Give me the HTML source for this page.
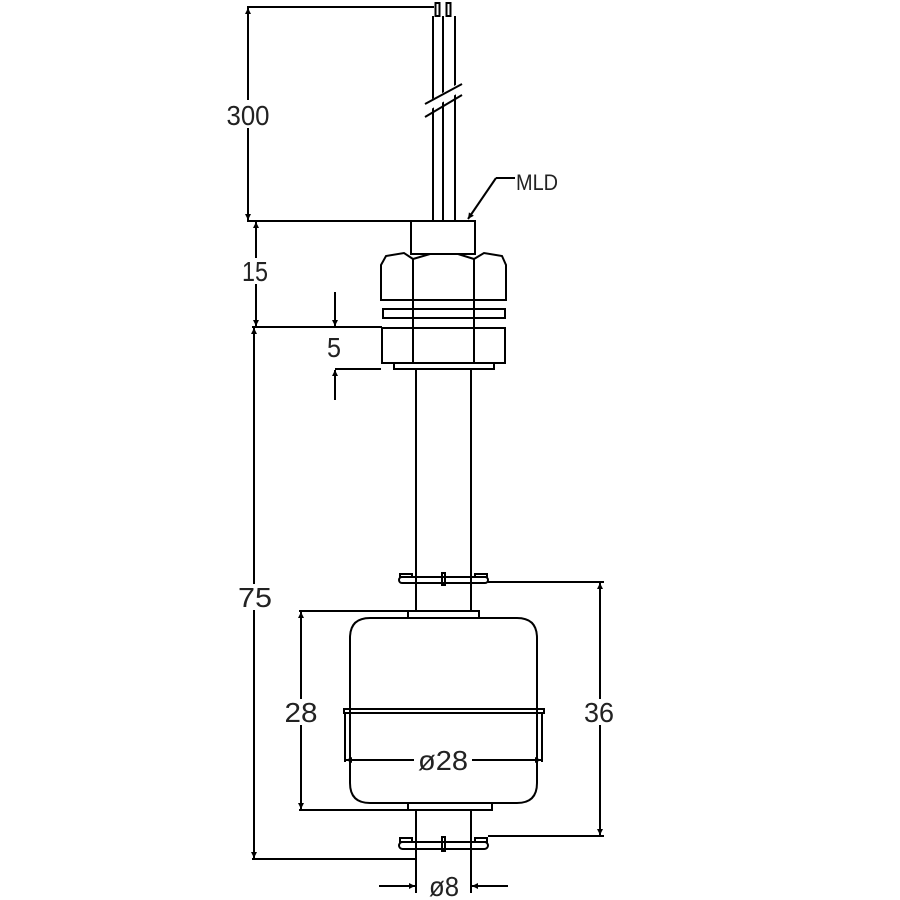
<!DOCTYPE html>
<html><head><style>html,body{margin:0;padding:0;background:#fff}svg{display:block}</style></head><body>
<svg width="900" height="900" viewBox="0 0 900 900" xmlns="http://www.w3.org/2000/svg">
<defs>
<marker id="a" viewBox="0 0 10 10" refX="10" refY="5" markerWidth="10" markerHeight="6" orient="auto-start-reverse" markerUnits="userSpaceOnUse"><path d="M0,0 L10,5 L0,10 z" fill="#000"/></marker>
</defs>
<g stroke="#000" stroke-width="2" fill="none">
<!-- wires -->
<line x1="247" y1="7" x2="434" y2="7"/>
<rect x="435.5" y="3" width="4" height="13"/>
<rect x="446.5" y="3" width="4" height="13"/>
<line x1="433" y1="16" x2="433" y2="221"/>
<line x1="443" y1="16" x2="443" y2="221"/>
<line x1="455" y1="16" x2="455" y2="221"/>
<line x1="425" y1="108" x2="462" y2="86" stroke="#fff" stroke-width="8"/>
<line x1="425" y1="104" x2="462" y2="84"/>
<line x1="425" y1="117" x2="462" y2="95"/>
<!-- 300 dim -->
<line x1="248" y1="8" x2="248" y2="220" marker-start="url(#a)" marker-end="url(#a)"/>
<line x1="247" y1="221" x2="475" y2="221"/>
<!-- MLD leader -->
<line x1="468" y1="219" x2="496" y2="178" marker-start="url(#a)"/>
<line x1="496" y1="178" x2="515" y2="178"/>
<!-- gland -->
<rect x="411" y="221" width="64" height="33"/>
<path d="M381,265 L386,256 L404,253 L413,259 L430,254 L458,254 L474,259 L484,253 L502,256 L506,265 L506,300 L381,300 Z"/>
<line x1="413" y1="259" x2="413" y2="362"/>
<line x1="474" y1="259" x2="474" y2="362"/>
<rect x="383" y="309" width="122" height="9"/>
<rect x="382" y="328" width="123" height="35"/>
<rect x="394" y="363" width="100" height="6"/>
<line x1="416" y1="369" x2="416" y2="611"/>
<line x1="471" y1="369" x2="471" y2="611"/>
<!-- 15 dim -->
<line x1="256" y1="222" x2="256" y2="326" marker-start="url(#a)" marker-end="url(#a)"/>
<line x1="252" y1="327" x2="382" y2="327"/>
<!-- 5 dim -->
<line x1="335" y1="292" x2="335" y2="326" marker-end="url(#a)"/>
<line x1="335" y1="400" x2="335" y2="370" marker-end="url(#a)"/>
<line x1="335" y1="369" x2="381" y2="369"/>
<!-- 75 dim -->
<line x1="254" y1="328" x2="254" y2="858" marker-start="url(#a)" marker-end="url(#a)"/>
<line x1="252" y1="859" x2="416" y2="859"/>
<!-- upper clip -->
<rect x="399" y="577" width="89" height="6" rx="3"/>
<rect x="400" y="574" width="12" height="3"/>
<rect x="475" y="574" width="12" height="3"/>
<rect x="442" y="573" width="3" height="12"/>
<line x1="488" y1="582" x2="604" y2="582"/>
<!-- float -->
<rect x="408" y="611" width="71" height="7"/>
<path d="M370,618 L517,618 Q537,618 537,638 L537,783 Q537,803 517,803 L370,803 Q350,803 350,783 L350,638 Q350,618 370,618 Z"/>
<rect x="344" y="709" width="200" height="4"/>
<line x1="345" y1="713" x2="345" y2="762"/>
<line x1="542" y1="713" x2="542" y2="762"/>
<line x1="346" y1="760" x2="414" y2="760" marker-start="url(#a)"/>
<line x1="472" y1="760" x2="541" y2="760" marker-end="url(#a)"/>
<rect x="408" y="803" width="84" height="7"/>
<line x1="299" y1="611" x2="408" y2="611"/>
<line x1="299" y1="810" x2="408" y2="810"/>
<line x1="301" y1="612" x2="301" y2="809" marker-start="url(#a)" marker-end="url(#a)"/>
<!-- 36 -->
<line x1="600" y1="583" x2="600" y2="835" marker-start="url(#a)" marker-end="url(#a)"/>
<line x1="488" y1="836" x2="604" y2="836"/>
<!-- lower stem + clip -->
<line x1="416" y1="810" x2="416" y2="893"/>
<line x1="471" y1="810" x2="471" y2="893"/>
<rect x="399" y="842" width="89" height="7" rx="3.5"/>
<rect x="400" y="838" width="12" height="4"/>
<rect x="475" y="838" width="12" height="4"/>
<rect x="442" y="837" width="3" height="14"/>
<!-- Ø8 -->
<line x1="379" y1="886" x2="415" y2="886" marker-end="url(#a)"/>
<line x1="508" y1="886" x2="472" y2="886" marker-end="url(#a)"/>
</g>
<g font-family="Liberation Sans, sans-serif" font-size="28" fill="#222" text-anchor="middle">
<rect x="226" y="100" width="46" height="28" fill="#fff"/>
<text x="248" y="125" textLength="43" lengthAdjust="spacingAndGlyphs">300</text>
<rect x="240" y="258" width="30" height="26" fill="#fff"/>
<text x="255" y="281" textLength="26" lengthAdjust="spacingAndGlyphs">15</text>
<text x="334" y="357" textLength="14" lengthAdjust="spacingAndGlyphs">5</text>
<rect x="236" y="584" width="38" height="26" fill="#fff"/>
<text x="255" y="607" textLength="34" lengthAdjust="spacingAndGlyphs">75</text>
<rect x="284" y="699" width="36" height="26" fill="#fff"/>
<text x="301" y="722" textLength="33" lengthAdjust="spacingAndGlyphs">28</text>
<rect x="582" y="699" width="36" height="26" fill="#fff"/>
<text x="599" y="722" textLength="30" lengthAdjust="spacingAndGlyphs">36</text>
<text x="443" y="770" textLength="50" lengthAdjust="spacingAndGlyphs">ø28</text>
<text x="444" y="896" textLength="30" lengthAdjust="spacingAndGlyphs">ø8</text>
<text x="537" y="190" font-size="22" textLength="42" lengthAdjust="spacingAndGlyphs">MLD</text>
</g>
</svg>
</body></html>
